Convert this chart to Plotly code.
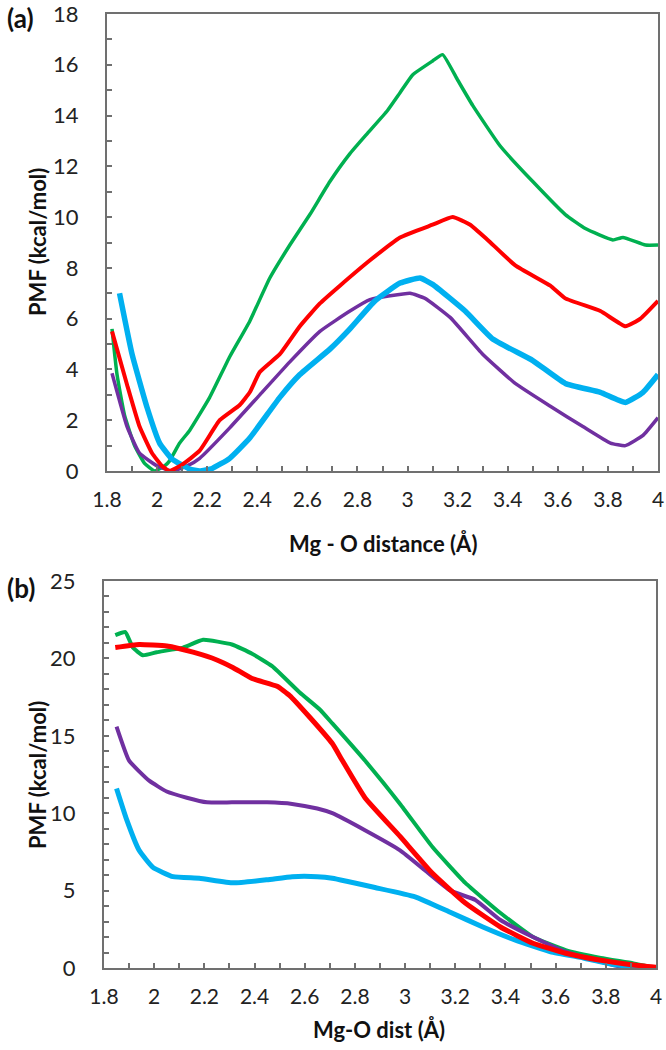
import plotly.graph_objects as go

# ---- panel (a): PMF vs Mg - O distance ----
a_green_x = [1.82, 1.84, 1.87, 1.91, 1.95, 1.99, 2.03, 2.05, 2.09, 2.13, 2.21, 2.29, 2.37, 2.45, 2.53, 2.61, 2.69,
             2.77, 2.84, 2.92, 2.97, 3.02, 3.10, 3.14, 3.20, 3.26, 3.37, 3.50, 3.63, 3.71, 3.82, 3.86, 3.95, 4.0]
a_green_y = [5.6, 3.8, 2.2, 1.0, 0.3, 0.0, 0.2, 0.4, 1.1, 1.6, 2.9, 4.5, 5.9, 7.6, 8.9, 10.1, 11.4,
             12.5, 13.3, 14.2, 14.9, 15.6, 16.15, 16.4, 15.4, 14.4, 12.8, 11.4, 10.1, 9.55, 9.1, 9.2, 8.9, 8.9]

a_red_x = [1.82, 1.88, 1.93, 1.98, 2.02, 2.05, 2.10, 2.17, 2.25, 2.33, 2.37, 2.41, 2.49, 2.57, 2.65, 2.73, 2.85,
           2.97, 3.10, 3.18, 3.25, 3.32, 3.43, 3.57, 3.63, 3.77, 3.87, 3.93, 4.0]
a_red_y = [5.5, 3.4, 1.75, 0.7, 0.2, 0.0, 0.25, 0.8, 2.0, 2.6, 3.1, 3.9, 4.6, 5.7, 6.6, 7.3, 8.3,
           9.2, 9.7, 10.0, 9.7, 9.1, 8.1, 7.3, 6.8, 6.3, 5.7, 6.0, 6.7]

a_cyan_x = [1.85, 1.90, 1.96, 2.01, 2.06, 2.13, 2.17, 2.22, 2.29, 2.37, 2.49, 2.57, 2.69, 2.77, 2.87, 2.97, 3.05,
            3.10, 3.23, 3.34, 3.50, 3.63, 3.77, 3.87, 3.94, 4.0]
a_cyan_y = [7.0, 4.6, 2.5, 1.1, 0.47, 0.08, 0.0, 0.1, 0.5, 1.3, 2.9, 3.8, 4.8, 5.6, 6.7, 7.4, 7.6,
            7.35, 6.3, 5.2, 4.35, 3.45, 3.1, 2.7, 3.1, 3.8]

a_purple_x = [1.82, 1.88, 1.93, 2.00, 2.06, 2.12, 2.17, 2.29, 2.41, 2.53, 2.65, 2.77, 2.85, 2.93, 3.01, 3.07,
              3.17, 3.30, 3.43, 3.57, 3.70, 3.81, 3.87, 3.94, 4.0]
a_purple_y = [3.85, 1.75, 0.7, 0.2, 0.0, 0.2, 0.5, 1.7, 3.0, 4.3, 5.5, 6.3, 6.75, 6.9, 7.0, 6.8,
              6.05, 4.6, 3.45, 2.55, 1.75, 1.1, 1.0, 1.4, 2.1]

# ---- panel (b): PMF vs Mg-O dist ----
b_green_x = [1.845, 1.885, 1.915, 1.955, 2.01, 2.115, 2.195, 2.31, 2.39, 2.47, 2.58, 2.66, 2.71, 2.84, 2.98,
             3.11, 3.24, 3.38, 3.51, 3.64, 3.78, 3.91, 4.0]
b_green_y = [21.5, 21.7, 20.7, 20.2, 20.4, 20.7, 21.2, 20.9, 20.3, 19.5, 17.8, 16.7, 15.8, 13.4, 10.6,
             7.8, 5.5, 3.55, 2.0, 1.15, 0.65, 0.3, 0.0]

b_red_x = [1.845, 1.94, 2.05, 2.155, 2.25, 2.315, 2.39, 2.49, 2.54, 2.62, 2.71, 2.75, 2.84, 2.98, 3.11,
           3.24, 3.38, 3.51, 3.64, 3.78, 3.91, 4.0]
b_red_y = [20.7, 20.9, 20.8, 20.4, 19.9, 19.4, 18.7, 18.2, 17.6, 16.2, 14.5, 13.4, 11.0, 8.5, 6.1,
           4.2, 2.65, 1.6, 0.95, 0.5, 0.2, 0.05]

b_purple_x = [1.85, 1.90, 1.98, 2.05, 2.13, 2.21, 2.31, 2.45, 2.55, 2.65, 2.71, 2.84, 2.98, 3.08, 3.18,
              3.28, 3.38, 3.51, 3.64, 3.78, 3.87, 4.0]
b_purple_y = [15.6, 13.4, 12.1, 11.4, 11.0, 10.7, 10.7, 10.7, 10.6, 10.3, 10.0, 8.9, 7.6, 6.3, 5.0,
              4.4, 3.1, 2.0, 1.05, 0.4, 0.05, 0.0]

b_cyan_x = [1.85, 1.89, 1.94, 1.995, 2.075, 2.18, 2.315, 2.45, 2.55, 2.65, 2.71, 2.88, 3.04, 3.18, 3.31,
            3.44, 3.58, 3.71, 3.84, 4.0]
b_cyan_y = [11.6, 9.6, 7.6, 6.5, 5.9, 5.8, 5.5, 5.7, 5.9, 5.9, 5.8, 5.2, 4.6, 3.6, 2.65,
            1.8, 1.05, 0.65, 0.2, 0.0]

x_ticks = [1.8, 2.0, 2.2, 2.4, 2.6, 2.8, 3.0, 3.2, 3.4, 3.6, 3.8, 4.0]
x_ticktext = ["1.8", "2", "2.2", "2.4", "2.6", "2.8", "3", "3.2", "3.4", "3.6", "3.8", "4"]

GREEN, RED, CYAN, PURPLE = "#00b050", "#ff0000", "#00b0f0", "#7030a0"
FONT = "Lato"
AXIS_GRAY = "#707070"

fig = go.Figure()

series_a = [(a_green_x, a_green_y, GREEN, 3.5), (a_purple_x, a_purple_y, PURPLE, 3.5),
            (a_cyan_x, a_cyan_y, CYAN, 5.5), (a_red_x, a_red_y, RED, 4)]
series_b = [(b_green_x, b_green_y, GREEN, 4), (b_purple_x, b_purple_y, PURPLE, 4),
            (b_cyan_x, b_cyan_y, CYAN, 5), (b_red_x, b_red_y, RED, 5)]

for xs, ys, col, w in series_a:
    fig.add_trace(go.Scatter(x=xs, y=ys, mode="lines", line=dict(color=col, width=w, shape="spline", smoothing=0.4),
                             xaxis="x", yaxis="y", showlegend=False, cliponaxis=False))
for xs, ys, col, w in series_b:
    fig.add_trace(go.Scatter(x=xs, y=ys, mode="lines", line=dict(color=col, width=w, shape="spline", smoothing=0.4),
                             xaxis="x2", yaxis="y2", showlegend=False, cliponaxis=False))

common = dict(showline=True, mirror=True, linecolor=AXIS_GRAY, linewidth=2, showgrid=False, zeroline=False,
              ticks="inside", ticklen=5, tickcolor=AXIS_GRAY, tickwidth=1.5,
              color="#222222", automargin=False, ticklabeloverflow="allow")

xaxis_style = dict(common, range=[1.8, 4.0], tickvals=x_ticks, ticktext=x_ticktext,
                   minor=dict(ticks="inside", dtick=0.1, tick0=1.8, ticklen=5, tickcolor=AXIS_GRAY, tickwidth=1.5),
                   tickfont=dict(family=FONT, size=21, color="#222222"), ticklabelstandoff=9)

yfont = dict(family=FONT, size=22, color="#222222")

fig.update_layout(
    width=666, height=1050,
    margin=dict(l=0, r=0, t=0, b=0, pad=0),
    plot_bgcolor="white", paper_bgcolor="white",
    xaxis=dict(xaxis_style, domain=[107 / 666, 658 / 666], anchor="y"),
    yaxis=dict(common, range=[0, 18], dtick=2, domain=[1 - 471 / 1050, 1 - 14 / 1050], anchor="x",
               minor=dict(ticks="inside", dtick=1, ticklen=5, tickcolor=AXIS_GRAY, tickwidth=1.5),
               tickfont=yfont, ticklabelstandoff=22),
    xaxis2=dict(xaxis_style, domain=[104 / 666, 656 / 666], anchor="y2"),
    yaxis2=dict(common, range=[0, 25], dtick=5, domain=[1 - 968 / 1050, 1 - 581 / 1050], anchor="x2",
                minor=dict(ticks="inside", dtick=1, ticklen=5, tickcolor=AXIS_GRAY, tickwidth=1.5),
                tickfont=yfont, ticklabelstandoff=22),
)

def label(text, x, y, size, angle=0):
    fig.add_annotation(text=text, x=x / 666, y=1 - y / 1050, xref="paper", yref="paper", showarrow=False,
                       textangle=angle, font=dict(family=FONT, size=size, color="#111111"),
                       xanchor="center", yanchor="middle")

label("<b>(a)</b>", 20, 18, 26)
label("<b>(b)</b>", 21, 588, 26)
label("<b>PMF (kcal/mol)</b>", 37, 242, 22, -90)
label("<b>PMF (kcal/mol)</b>", 37, 775, 22, -90)
label("<b>Mg - O distance (Å)</b>", 383, 543, 22)
label("<b>Mg-O dist (Å)</b>", 379, 1029, 22)

# the page body has an 8px default margin; drop it so the figure sits at the window origin
fig.write_html("out.html", config={"displayModeBar": False},
               post_script="document.body.style.margin='0';document.body.style.overflow='hidden';")
